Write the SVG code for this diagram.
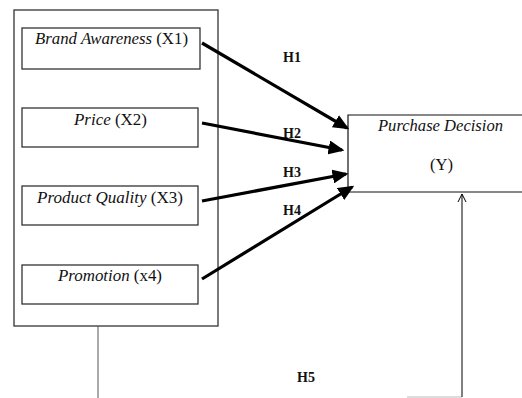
<svg xmlns="http://www.w3.org/2000/svg" width="522" height="398" viewBox="0 0 522 398">
<defs>
<marker id="ah" markerWidth="5" markerHeight="4.4" refX="4.2" refY="2.2" orient="auto" markerUnits="strokeWidth">
<path d="M0,0 L5,2.2 L0,4.4 Z" fill="#000"/>
</marker>
<marker id="open" markerWidth="12" markerHeight="12" refX="10" refY="6" orient="auto" markerUnits="userSpaceOnUse">
<path d="M2,2 L10,6 L2,10" fill="none" stroke="#000" stroke-width="1"/>
</marker>
</defs>
<style>
.box{fill:#fff;stroke:#333;stroke-width:1.3}
.t{font-family:"Liberation Serif",serif;font-size:16px;fill:#111}
.i{font-style:italic}
.h{font-family:"Liberation Serif",serif;font-size:14px;font-weight:bold;fill:#111}
.arr{stroke:#000;stroke-width:3.2;fill:none;marker-end:url(#ah)}
</style>
<rect width="522" height="398" fill="#fff"/>
<g id="outer"><rect class="box" x="14" y="10" width="204" height="316"/></g>
<g id="x1"><rect class="box" x="22" y="28" width="178" height="41"/><text class="t" x="35" y="44" textLength="153" lengthAdjust="spacingAndGlyphs"><tspan class="i">Brand Awareness</tspan> (X1)</text></g>
<g id="x2"><rect class="box" x="22" y="108" width="176" height="39"/><text class="t" x="74" y="125" textLength="73" lengthAdjust="spacingAndGlyphs"><tspan class="i">Price</tspan> (X2)</text></g>
<g id="x3"><rect class="box" x="22" y="186" width="176" height="39"/><text class="t" x="37" y="203" textLength="146" lengthAdjust="spacingAndGlyphs"><tspan class="i">Product Quality</tspan> (X3)</text></g>
<g id="x4"><rect class="box" x="22" y="265" width="176" height="39"/><text class="t" x="58" y="281" textLength="104" lengthAdjust="spacingAndGlyphs"><tspan class="i">Promotion</tspan> (x4)</text></g>
<g id="y"><path d="M525,115 H348 V192 H525" fill="#fff" stroke="#111" stroke-width="1.2"/><text class="t i" x="378" y="131" textLength="125" lengthAdjust="spacingAndGlyphs">Purchase Decision</text><text class="t" x="430" y="170" textLength="23" lengthAdjust="spacingAndGlyphs">(Y)</text></g>
<g id="connectors">
<line class="arr" x1="202" y1="43" x2="347" y2="128"/>
<line class="arr" x1="202" y1="123" x2="342" y2="150"/>
<line class="arr" x1="202" y1="201" x2="346" y2="174"/>
<line class="arr" x1="202" y1="279" x2="352" y2="187"/>
<line x1="98" y1="326" x2="98" y2="398" stroke="#555" stroke-width="1"/>
<line x1="407" y1="397" x2="462" y2="397" stroke="#bbb" stroke-width="1"/>
<line x1="462" y1="397" x2="462" y2="194" stroke="#000" stroke-width="1" marker-end="url(#open)"/>
</g>
<g id="labels">
<text class="h" x="283" y="62">H1</text>
<text class="h" x="283" y="138">H2</text>
<text class="h" x="283" y="177">H3</text>
<text class="h" x="283" y="215">H4</text>
<text class="h" x="297" y="382">H5</text>
</g>
</svg>
